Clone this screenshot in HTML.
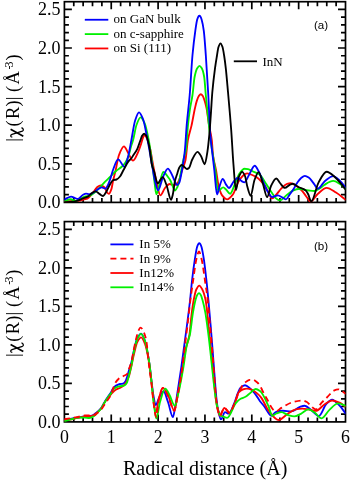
<!DOCTYPE html>
<html><head><meta charset="utf-8"><style>
html,body{margin:0;padding:0;background:#fff;}
body{width:350px;height:481px;overflow:hidden;}
svg{display:block;will-change:transform;}
text{font-family:"Liberation Serif",serif;fill:#000;}
.s{font-family:"Liberation Sans",sans-serif;}
</style></head><body>
<svg width="350" height="481" viewBox="0 0 350 481">
<rect width="350" height="481" fill="#fff"/>
<clipPath id="c0"><rect x="64.40" y="1.70" width="281.10" height="200.70"/></clipPath>
<clipPath id="c1"><rect x="64.40" y="221.60" width="281.10" height="200.30"/></clipPath>
<rect x="64.40" y="1.70" width="281.10" height="200.70" fill="none" stroke="#000" stroke-width="1.70"/>
<rect x="64.40" y="221.60" width="281.10" height="200.30" fill="none" stroke="#000" stroke-width="1.70"/>
<path d="M73.77,202.40v-4.50M73.77,1.70v4.50M83.14,202.40v-4.50M83.14,1.70v4.50M92.51,202.40v-4.50M92.51,1.70v4.50M101.88,202.40v-4.50M101.88,1.70v4.50M111.25,202.40v-7.50M111.25,1.70v7.50M120.62,202.40v-4.50M120.62,1.70v4.50M129.99,202.40v-4.50M129.99,1.70v4.50M139.36,202.40v-4.50M139.36,1.70v4.50M148.73,202.40v-4.50M148.73,1.70v4.50M158.10,202.40v-7.50M158.10,1.70v7.50M167.47,202.40v-4.50M167.47,1.70v4.50M176.84,202.40v-4.50M176.84,1.70v4.50M186.21,202.40v-4.50M186.21,1.70v4.50M195.58,202.40v-4.50M195.58,1.70v4.50M204.95,202.40v-7.50M204.95,1.70v7.50M214.32,202.40v-4.50M214.32,1.70v4.50M223.69,202.40v-4.50M223.69,1.70v4.50M233.06,202.40v-4.50M233.06,1.70v4.50M242.43,202.40v-4.50M242.43,1.70v4.50M251.80,202.40v-7.50M251.80,1.70v7.50M261.17,202.40v-4.50M261.17,1.70v4.50M270.54,202.40v-4.50M270.54,1.70v4.50M279.91,202.40v-4.50M279.91,1.70v4.50M289.28,202.40v-4.50M289.28,1.70v4.50M298.65,202.40v-7.50M298.65,1.70v7.50M308.02,202.40v-4.50M308.02,1.70v4.50M317.39,202.40v-4.50M317.39,1.70v4.50M326.76,202.40v-4.50M326.76,1.70v4.50M336.13,202.40v-4.50M336.13,1.70v4.50M64.40,194.68h4.50M345.50,194.68h-4.50M64.40,186.96h4.50M345.50,186.96h-4.50M64.40,179.24h4.50M345.50,179.24h-4.50M64.40,171.52h4.50M345.50,171.52h-4.50M64.40,163.80h7.50M345.50,163.80h-7.50M64.40,156.08h4.50M345.50,156.08h-4.50M64.40,148.37h4.50M345.50,148.37h-4.50M64.40,140.65h4.50M345.50,140.65h-4.50M64.40,132.93h4.50M345.50,132.93h-4.50M64.40,125.21h7.50M345.50,125.21h-7.50M64.40,117.49h4.50M345.50,117.49h-4.50M64.40,109.77h4.50M345.50,109.77h-4.50M64.40,102.05h4.50M345.50,102.05h-4.50M64.40,94.33h4.50M345.50,94.33h-4.50M64.40,86.61h7.50M345.50,86.61h-7.50M64.40,78.89h4.50M345.50,78.89h-4.50M64.40,71.17h4.50M345.50,71.17h-4.50M64.40,63.45h4.50M345.50,63.45h-4.50M64.40,55.73h4.50M345.50,55.73h-4.50M64.40,48.02h7.50M345.50,48.02h-7.50M64.40,40.30h4.50M345.50,40.30h-4.50M64.40,32.58h4.50M345.50,32.58h-4.50M64.40,24.86h4.50M345.50,24.86h-4.50M64.40,17.14h4.50M345.50,17.14h-4.50M64.40,9.42h7.50M345.50,9.42h-7.50M73.77,421.90v-4.50M73.77,221.60v4.50M83.14,421.90v-4.50M83.14,221.60v4.50M92.51,421.90v-4.50M92.51,221.60v4.50M101.88,421.90v-4.50M101.88,221.60v4.50M111.25,421.90v-7.50M111.25,221.60v7.50M120.62,421.90v-4.50M120.62,221.60v4.50M129.99,421.90v-4.50M129.99,221.60v4.50M139.36,421.90v-4.50M139.36,221.60v4.50M148.73,421.90v-4.50M148.73,221.60v4.50M158.10,421.90v-7.50M158.10,221.60v7.50M167.47,421.90v-4.50M167.47,221.60v4.50M176.84,421.90v-4.50M176.84,221.60v4.50M186.21,421.90v-4.50M186.21,221.60v4.50M195.58,421.90v-4.50M195.58,221.60v4.50M204.95,421.90v-7.50M204.95,221.60v7.50M214.32,421.90v-4.50M214.32,221.60v4.50M223.69,421.90v-4.50M223.69,221.60v4.50M233.06,421.90v-4.50M233.06,221.60v4.50M242.43,421.90v-4.50M242.43,221.60v4.50M251.80,421.90v-7.50M251.80,221.60v7.50M261.17,421.90v-4.50M261.17,221.60v4.50M270.54,421.90v-4.50M270.54,221.60v4.50M279.91,421.90v-4.50M279.91,221.60v4.50M289.28,421.90v-4.50M289.28,221.60v4.50M298.65,421.90v-7.50M298.65,221.60v7.50M308.02,421.90v-4.50M308.02,221.60v4.50M317.39,421.90v-4.50M317.39,221.60v4.50M326.76,421.90v-4.50M326.76,221.60v4.50M336.13,421.90v-4.50M336.13,221.60v4.50M64.40,414.20h4.50M345.50,414.20h-4.50M64.40,406.49h4.50M345.50,406.49h-4.50M64.40,398.79h4.50M345.50,398.79h-4.50M64.40,391.08h4.50M345.50,391.08h-4.50M64.40,383.38h7.50M345.50,383.38h-7.50M64.40,375.68h4.50M345.50,375.68h-4.50M64.40,367.97h4.50M345.50,367.97h-4.50M64.40,360.27h4.50M345.50,360.27h-4.50M64.40,352.57h4.50M345.50,352.57h-4.50M64.40,344.86h7.50M345.50,344.86h-7.50M64.40,337.16h4.50M345.50,337.16h-4.50M64.40,329.45h4.50M345.50,329.45h-4.50M64.40,321.75h4.50M345.50,321.75h-4.50M64.40,314.05h4.50M345.50,314.05h-4.50M64.40,306.34h7.50M345.50,306.34h-7.50M64.40,298.64h4.50M345.50,298.64h-4.50M64.40,290.93h4.50M345.50,290.93h-4.50M64.40,283.23h4.50M345.50,283.23h-4.50M64.40,275.53h4.50M345.50,275.53h-4.50M64.40,267.82h7.50M345.50,267.82h-7.50M64.40,260.12h4.50M345.50,260.12h-4.50M64.40,252.42h4.50M345.50,252.42h-4.50M64.40,244.71h4.50M345.50,244.71h-4.50M64.40,237.01h4.50M345.50,237.01h-4.50M64.40,229.30h7.50M345.50,229.30h-7.50" stroke="#000" stroke-width="1.70" fill="none"/>
<g clip-path="url(#c0)">
<path d="M64.00,201.40 C66.80,201.27 69.60,201.16 72.40,201.00 C74.93,200.86 77.47,200.79 80.00,200.50 C81.33,200.35 82.67,199.62 84.00,199.30 C85.13,199.02 86.27,198.97 87.40,198.60 C89.13,198.03 90.87,195.43 92.60,193.40 C94.03,191.72 95.47,188.52 96.90,187.40 C98.17,186.41 99.43,185.30 100.70,185.30 C102.00,185.30 103.30,186.24 104.60,187.40 C105.43,188.14 106.27,191.73 107.10,192.60 C107.70,193.23 108.30,193.90 108.90,193.90 C109.73,193.90 110.57,191.48 111.40,189.10 C111.97,187.48 112.53,183.13 113.10,180.60 C113.90,177.02 114.70,174.40 115.50,171.00 C116.67,166.04 117.83,158.00 119.00,155.00 C120.67,150.72 122.33,146.40 124.00,146.40 C125.13,146.40 126.27,149.66 127.40,151.40 C129.30,154.31 131.20,160.60 133.10,160.60 C134.73,160.60 136.37,155.86 138.00,152.40 C139.10,150.07 140.20,146.66 141.30,143.30 C141.87,141.57 142.43,138.90 143.00,137.60 C143.53,136.38 144.07,134.80 144.60,134.80 C145.20,134.80 145.80,136.30 146.40,137.40 C147.10,138.69 147.80,140.66 148.50,142.80 C149.13,144.74 149.77,147.08 150.40,149.90 C151.23,153.61 152.07,159.57 152.90,164.00 C154.10,170.38 155.30,177.10 156.50,182.00 C157.80,187.31 159.10,195.40 160.40,195.40 C161.93,195.40 163.47,189.73 165.00,188.00 C166.53,186.27 168.07,184.00 169.60,184.00 C170.97,184.00 172.33,185.10 173.70,185.10 C174.73,185.10 175.77,184.57 176.80,183.90 C177.63,183.36 178.47,181.44 179.30,179.50 C179.93,178.02 180.57,175.19 181.20,173.20 C181.83,171.20 182.47,169.44 183.10,167.50 C183.90,165.05 184.70,163.64 185.50,160.00 C186.30,156.36 187.10,144.43 187.90,140.00 C189.10,133.36 190.30,130.95 191.50,125.60 C192.67,120.40 193.83,113.09 195.00,108.00 C195.60,105.38 196.20,102.72 196.80,100.90 C197.47,98.88 198.13,96.88 198.80,96.00 C199.47,95.12 200.13,94.20 200.80,94.20 C201.47,94.20 202.13,95.11 202.80,96.00 C203.43,96.85 204.07,98.92 204.70,100.90 C205.30,102.77 205.90,105.06 206.50,108.00 C207.37,112.25 208.23,120.43 209.10,125.60 C210.00,130.97 210.90,132.91 211.80,140.00 C212.20,143.15 212.60,151.96 213.00,155.00 C214.00,162.61 215.00,164.52 216.00,170.00 C216.90,174.93 217.80,182.91 218.70,186.30 C219.83,190.57 220.97,193.99 222.10,195.40 C223.83,197.55 225.57,199.40 227.30,199.40 C229.20,199.40 231.10,196.78 233.00,194.30 C234.70,192.08 236.40,185.23 238.10,182.30 C239.63,179.66 241.17,177.31 242.70,176.00 C244.13,174.77 245.57,173.30 247.00,173.30 C248.33,173.30 249.67,174.01 251.00,174.50 C252.80,175.16 254.60,175.96 256.40,177.10 C259.27,178.91 262.13,182.03 265.00,185.70 C267.43,188.81 269.87,198.40 272.30,198.40 C273.53,198.40 274.77,196.28 276.00,195.00 C277.80,193.13 279.60,190.13 281.40,188.40 C283.30,186.57 285.20,184.49 287.10,183.90 C288.23,183.55 289.37,183.20 290.50,183.20 C291.73,183.20 292.97,183.92 294.20,184.50 C295.67,185.19 297.13,186.62 298.60,187.80 C299.60,188.61 300.60,189.38 301.60,190.40 C302.60,191.42 303.60,192.78 304.60,194.10 C305.57,195.37 306.53,197.00 307.50,198.20 C308.50,199.44 309.50,201.50 310.50,201.50 C312.90,201.50 315.30,196.02 317.70,194.00 C320.67,191.51 323.63,187.80 326.60,187.80 C329.73,187.80 332.87,190.62 336.00,192.50 C339.33,194.50 342.67,197.50 346.00,200.00" fill="none" stroke="#ff0000" stroke-width="1.85" stroke-linejoin="round"/>
<path d="M64.00,201.00 C66.27,200.40 68.53,199.20 70.80,199.20 C72.27,199.20 73.73,201.00 75.20,201.00 C76.93,201.00 78.67,199.78 80.40,199.00 C82.00,198.28 83.60,196.67 85.20,196.40 C86.50,196.18 87.80,196.22 89.10,196.00 C91.10,195.66 93.10,193.68 95.10,192.10 C97.10,190.52 99.10,188.19 101.10,186.10 C102.53,184.60 103.97,182.86 105.40,181.40 C106.93,179.83 108.47,178.50 110.00,177.00 C112.00,175.05 114.00,172.71 116.00,171.00 C118.00,169.29 120.00,168.37 122.00,166.50 C123.03,165.54 124.07,164.40 125.10,162.90 C126.27,161.20 127.43,159.14 128.60,156.00 C129.37,153.93 130.13,149.58 130.90,146.90 C131.63,144.34 132.37,142.66 133.10,140.00 C134.23,135.89 135.37,128.00 136.50,125.00 C137.87,121.39 139.23,117.40 140.60,117.40 C141.90,117.40 143.20,120.26 144.50,123.00 C145.90,125.95 147.30,132.88 148.70,140.00 C149.80,145.60 150.90,153.97 152.00,162.00 C152.83,168.09 153.67,176.06 154.50,182.00 C155.13,186.51 155.77,194.30 156.40,194.30 C157.27,194.30 158.13,188.79 159.00,186.00 C160.43,181.38 161.87,172.00 163.30,172.00 C164.87,172.00 166.43,175.03 168.00,177.00 C168.83,178.05 169.67,179.15 170.50,180.70 C171.33,182.25 172.17,185.24 173.00,187.00 C173.63,188.34 174.27,190.50 174.90,190.50 C175.73,190.50 176.57,188.66 177.40,187.00 C177.93,185.94 178.47,184.07 179.00,182.00 C179.53,179.93 180.07,176.57 180.60,173.80 C181.00,171.72 181.40,169.50 181.80,167.50 C182.47,164.16 183.13,160.82 183.80,158.00 C184.50,155.04 185.20,154.04 185.90,150.00 C186.60,145.96 187.30,131.83 188.00,125.00 C188.60,119.14 189.20,114.05 189.80,110.00 C190.70,103.92 191.60,101.12 192.50,95.00 C193.20,90.24 193.90,80.42 194.60,77.00 C195.47,72.76 196.33,69.71 197.20,68.30 C197.97,67.05 198.73,65.80 199.50,65.80 C200.27,65.80 201.03,67.02 201.80,68.30 C202.60,69.63 203.40,72.46 204.20,77.00 C204.73,80.03 205.27,89.34 205.80,95.00 C206.43,101.72 207.07,107.95 207.70,114.00 C208.47,121.33 209.23,128.80 210.00,135.00 C210.73,140.93 211.47,146.10 212.20,151.00 C213.23,157.91 214.27,163.03 215.30,170.00 C216.23,176.29 217.17,190.90 218.10,190.90 C219.83,190.90 221.57,187.40 223.30,187.40 C224.20,187.40 225.10,188.71 226.00,189.50 C227.37,190.70 228.73,193.70 230.10,193.70 C231.83,193.70 233.57,186.69 235.30,182.90 C236.63,179.98 237.97,175.54 239.30,173.70 C241.03,171.31 242.77,168.70 244.50,168.70 C245.67,168.70 246.83,168.95 248.00,169.20 C249.67,169.55 251.33,170.75 253.00,171.50 C255.10,172.45 257.20,172.90 259.30,174.30 C261.67,175.88 264.03,180.80 266.40,184.30 C268.27,187.06 270.13,190.28 272.00,193.00 C273.23,194.79 274.47,197.09 275.70,198.10 C277.03,199.19 278.37,200.40 279.70,200.40 C282.17,200.40 284.63,196.49 287.10,194.70 C289.03,193.30 290.97,191.50 292.90,190.70 C294.80,189.91 296.70,189.00 298.60,189.00 C300.50,189.00 302.40,189.34 304.30,189.60 C305.87,189.81 307.43,190.30 309.00,190.50 C310.80,190.73 312.60,191.00 314.40,191.00 C315.93,191.00 317.47,189.85 319.00,189.00 C320.73,188.04 322.47,186.02 324.20,185.00 C327.20,183.24 330.20,180.90 333.20,180.90 C335.47,180.90 337.73,182.66 340.00,184.00 C342.00,185.19 344.00,187.33 346.00,189.00" fill="none" stroke="#00f000" stroke-width="1.85" stroke-linejoin="round"/>
<path d="M64.00,199.80 C65.17,199.13 66.33,198.28 67.50,197.80 C68.73,197.29 69.97,196.60 71.20,196.60 C72.30,196.60 73.40,197.39 74.50,197.80 C75.53,198.19 76.57,199.00 77.60,199.00 C79.33,199.00 81.07,195.95 82.80,195.00 C83.87,194.42 84.93,193.60 86.00,193.60 C87.03,193.60 88.07,194.30 89.10,194.30 C90.23,194.30 91.37,193.70 92.50,193.20 C93.97,192.55 95.43,190.94 96.90,190.00 C98.47,188.99 100.03,187.30 101.60,187.30 C102.87,187.30 104.13,188.70 105.40,188.70 C106.27,188.70 107.13,186.53 108.00,184.90 C108.87,183.27 109.73,180.56 110.60,178.00 C111.40,175.63 112.20,172.12 113.00,170.00 C114.70,165.50 116.40,159.30 118.10,159.30 C120.27,159.30 122.43,166.90 124.60,166.90 C125.73,166.90 126.87,161.25 128.00,157.10 C129.13,152.95 130.27,145.84 131.40,140.00 C132.60,133.82 133.80,124.69 135.00,121.00 C136.33,116.90 137.67,112.40 139.00,112.40 C140.33,112.40 141.67,115.78 143.00,119.00 C144.33,122.22 145.67,130.42 147.00,137.00 C148.40,143.91 149.80,152.30 151.20,160.00 C152.47,166.97 153.73,176.12 155.00,181.00 C156.03,184.98 157.07,190.30 158.10,190.30 C159.73,190.30 161.37,180.43 163.00,177.00 C164.63,173.57 166.27,168.60 167.90,168.60 C169.20,168.60 170.50,172.02 171.80,174.40 C172.63,175.92 173.47,178.43 174.30,180.10 C175.23,181.97 176.17,185.10 177.10,185.10 C177.83,185.10 178.57,183.95 179.30,182.60 C179.73,181.80 180.17,179.55 180.60,177.60 C181.13,175.20 181.67,171.87 182.20,168.80 C182.63,166.31 183.07,163.94 183.50,161.00 C183.97,157.83 184.43,154.63 184.90,150.00 C185.50,144.05 186.10,132.07 186.70,125.00 C187.70,113.21 188.70,106.79 189.70,95.00 C190.63,84.00 191.57,65.05 192.50,55.00 C193.43,44.95 194.37,37.26 195.30,30.80 C195.93,26.41 196.57,21.83 197.20,19.60 C197.57,18.31 197.93,17.20 198.30,16.70 C198.67,16.20 199.03,15.70 199.40,15.70 C199.77,15.70 200.13,16.20 200.50,16.70 C200.87,17.20 201.23,18.37 201.60,19.60 C202.33,22.06 203.07,25.51 203.80,30.80 C204.47,35.61 205.13,45.86 205.80,55.00 C206.63,66.42 207.47,80.12 208.30,95.00 C208.97,106.90 209.63,126.78 210.30,135.00 C210.93,142.80 211.57,146.45 212.20,152.00 C212.90,158.13 213.60,163.84 214.30,170.00 C215.20,177.92 216.10,194.50 217.00,194.50 C217.97,194.50 218.93,187.64 219.90,185.10 C220.83,182.65 221.77,178.90 222.70,178.90 C223.83,178.90 224.97,183.04 226.10,184.60 C227.07,185.93 228.03,188.00 229.00,188.00 C230.53,188.00 232.07,183.37 233.60,181.70 C235.07,180.10 236.53,177.70 238.00,177.70 C239.20,177.70 240.40,180.42 241.60,181.10 C242.57,181.65 243.53,182.30 244.50,182.30 C246.00,182.30 247.50,177.44 249.00,175.00 C250.90,171.91 252.80,165.70 254.70,165.70 C256.13,165.70 257.57,169.41 259.00,172.00 C260.53,174.77 262.07,179.52 263.60,182.90 C265.07,186.14 266.53,189.73 268.00,192.00 C269.37,194.12 270.73,197.10 272.10,197.10 C274.07,197.10 276.03,195.30 278.00,195.30 C279.53,195.30 281.07,196.83 282.60,197.60 C283.73,198.17 284.87,199.30 286.00,199.30 C287.23,199.30 288.47,196.16 289.70,194.50 C290.93,192.84 292.17,191.20 293.40,189.30 C294.63,187.40 295.87,184.79 297.10,183.00 C298.37,181.16 299.63,179.20 300.90,178.20 C302.23,177.14 303.57,175.90 304.90,175.90 C306.27,175.90 307.63,176.89 309.00,177.80 C310.00,178.47 311.00,179.88 312.00,181.10 C312.83,182.12 313.67,183.37 314.50,184.50 C315.57,185.94 316.63,188.80 317.70,188.80 C320.13,188.80 322.57,182.76 325.00,180.90 C327.73,178.81 330.47,176.10 333.20,176.10 C335.47,176.10 337.73,178.97 340.00,181.00 C342.00,182.79 344.00,185.67 346.00,188.00" fill="none" stroke="#0000ff" stroke-width="1.85" stroke-linejoin="round"/>
<path d="M64.00,202.20 C66.00,202.13 68.00,202.11 70.00,202.00 C72.67,201.86 75.33,201.30 78.00,200.60 C79.60,200.18 81.20,199.05 82.80,198.40 C84.63,197.65 86.47,197.36 88.30,196.40 C89.73,195.65 91.17,193.42 92.60,192.60 C93.60,192.03 94.60,191.30 95.60,191.30 C96.87,191.30 98.13,193.09 99.40,193.90 C100.57,194.65 101.73,196.00 102.90,196.00 C104.03,196.00 105.17,193.46 106.30,191.70 C107.43,189.94 108.57,186.78 109.70,184.90 C110.83,183.02 111.97,180.46 113.10,180.10 C114.23,179.74 115.37,179.83 116.50,179.50 C117.67,179.16 118.83,177.87 120.00,176.50 C121.17,175.13 122.33,172.10 123.50,170.00 C125.20,166.94 126.90,163.21 128.60,161.10 C129.53,159.94 130.47,159.48 131.40,158.30 C131.93,157.63 132.47,156.55 133.00,155.70 C134.40,153.46 135.80,151.93 137.20,149.10 C138.30,146.87 139.40,142.93 140.50,140.00 C141.07,138.49 141.63,136.40 142.20,135.60 C142.87,134.66 143.53,133.70 144.20,133.70 C144.90,133.70 145.60,134.72 146.30,135.80 C146.73,136.47 147.17,138.11 147.60,139.60 C148.27,141.90 148.93,144.64 149.60,148.30 C150.30,152.14 151.00,160.90 151.70,164.00 C152.57,167.84 153.43,169.19 154.30,172.00 C155.40,175.57 156.50,183.40 157.60,183.40 C159.30,183.40 161.00,177.10 162.70,177.10 C163.97,177.10 165.23,181.82 166.50,185.00 C168.03,188.85 169.57,199.80 171.10,199.80 C171.63,199.80 172.17,197.12 172.70,195.00 C173.43,192.09 174.17,184.56 174.90,181.40 C175.73,177.80 176.57,175.81 177.40,173.20 C178.03,171.22 178.67,168.56 179.30,167.50 C180.03,166.28 180.77,165.00 181.50,165.00 C182.47,165.00 183.43,166.19 184.40,166.90 C185.23,167.52 186.07,169.00 186.90,169.00 C187.60,169.00 188.30,168.54 189.00,168.00 C190.00,167.22 191.00,161.95 192.00,160.00 C193.87,156.36 195.73,151.80 197.60,151.80 C198.73,151.80 199.87,154.21 201.00,156.00 C202.23,157.95 203.47,164.20 204.70,164.20 C205.63,164.20 206.57,156.98 207.50,151.10 C208.10,147.32 208.70,141.37 209.30,134.90 C209.80,129.51 210.30,122.04 210.80,115.00 C211.30,107.96 211.80,98.25 212.30,92.50 C213.20,82.15 214.10,75.00 215.00,68.30 C215.63,63.58 216.27,59.80 216.90,56.00 C217.43,52.80 217.97,48.51 218.50,47.00 C219.17,45.11 219.83,43.30 220.50,43.30 C221.17,43.30 221.83,45.15 222.50,47.00 C223.07,48.57 223.63,52.44 224.20,56.00 C224.73,59.35 225.27,63.56 225.80,68.30 C226.53,74.82 227.27,83.84 228.00,92.00 C228.67,99.42 229.33,106.99 230.00,115.00 C230.40,119.81 230.80,124.57 231.20,130.00 C231.97,140.42 232.73,155.51 233.50,165.00 C234.30,174.91 235.10,190.00 235.90,190.00 C236.83,190.00 237.77,179.27 238.70,177.10 C239.87,174.39 241.03,171.80 242.20,171.80 C243.13,171.80 244.07,173.86 245.00,176.00 C245.77,177.76 246.53,183.85 247.30,186.50 C248.43,190.42 249.57,195.70 250.70,195.70 C251.97,195.70 253.23,183.34 254.50,180.00 C255.87,176.39 257.23,172.10 258.60,172.10 C260.07,172.10 261.53,179.70 263.00,184.00 C264.37,188.01 265.73,197.10 267.10,197.10 C268.40,197.10 269.70,188.50 271.00,186.00 C272.77,182.60 274.53,178.50 276.30,178.50 C277.53,178.50 278.77,181.63 280.00,183.00 C281.60,184.78 283.20,187.90 284.80,187.90 C286.43,187.90 288.07,185.68 289.70,184.90 C290.70,184.42 291.70,183.70 292.70,183.70 C293.70,183.70 294.70,184.65 295.70,185.20 C296.93,185.88 298.17,186.92 299.40,187.50 C300.63,188.08 301.87,188.31 303.10,188.90 C304.10,189.38 305.10,189.86 306.10,190.80 C306.83,191.49 307.57,193.06 308.30,194.50 C309.27,196.40 310.23,201.50 311.20,201.50 C313.63,201.50 316.07,186.93 318.50,182.60 C321.20,177.79 323.90,171.70 326.60,171.70 C329.60,171.70 332.60,175.16 335.60,177.70 C339.07,180.64 342.53,185.90 346.00,190.00" fill="none" stroke="#000000" stroke-width="1.85" stroke-linejoin="round"/>
</g>
<g clip-path="url(#c1)">
<path d="M64.00,420.00 C66.00,419.67 68.00,419.34 70.00,419.00 C72.10,418.64 74.20,418.27 76.30,417.90 C79.17,417.40 82.03,416.76 84.90,416.40 C87.27,416.10 89.63,416.14 92.00,415.70 C93.33,415.45 94.67,414.05 96.00,413.00 C97.73,411.64 99.47,410.20 101.20,408.00 C102.43,406.43 103.67,403.43 104.90,401.40 C105.77,399.97 106.63,398.70 107.50,397.40 C108.73,395.55 109.97,394.06 111.20,392.00 C111.80,391.00 112.40,389.41 113.00,388.60 C114.00,387.26 115.00,386.18 116.00,385.60 C117.33,384.82 118.67,384.26 120.00,384.00 C121.00,383.80 122.00,383.84 123.00,383.60 C123.83,383.40 124.67,382.42 125.50,381.20 C126.00,380.47 126.50,378.82 127.00,377.30 C127.40,376.09 127.80,374.38 128.20,373.00 C128.80,370.92 129.40,369.03 130.00,367.00 C130.53,365.19 131.07,363.61 131.60,361.50 C132.40,358.33 133.20,353.33 134.00,350.00 C135.10,345.42 136.20,339.96 137.30,338.00 C138.57,335.75 139.83,333.60 141.10,333.60 C142.40,333.60 143.70,337.43 145.00,341.00 C146.43,344.93 147.87,353.67 149.30,362.90 C150.00,367.41 150.70,374.49 151.40,380.00 C152.10,385.51 152.80,392.26 153.50,396.00 C154.23,399.91 154.97,405.00 155.70,405.00 C156.80,405.00 157.90,399.90 159.00,398.00 C160.53,395.35 162.07,391.40 163.60,391.40 C165.07,391.40 166.53,398.04 168.00,402.00 C169.63,406.41 171.27,417.10 172.90,417.10 C173.60,417.10 174.30,411.58 175.00,408.00 C175.77,404.08 176.53,398.51 177.30,393.60 C178.67,384.85 180.03,376.19 181.40,366.60 C182.37,359.82 183.33,352.18 184.30,345.00 C185.20,338.32 186.10,331.94 187.00,325.00 C188.03,317.03 189.07,309.30 190.10,300.00 C190.77,294.00 191.43,285.77 192.10,280.00 C193.03,271.92 193.97,264.84 194.90,258.90 C195.60,254.45 196.30,249.54 197.00,247.20 C197.40,245.87 197.80,244.77 198.20,244.20 C198.57,243.68 198.93,243.10 199.30,243.10 C199.67,243.10 200.03,243.68 200.40,244.20 C200.80,244.77 201.20,245.89 201.60,247.20 C202.33,249.61 203.07,254.22 203.80,258.90 C204.67,264.44 205.53,272.20 206.40,280.00 C207.07,286.00 207.73,292.91 208.40,300.00 C209.13,307.79 209.87,316.26 210.60,325.00 C211.27,332.94 211.93,341.45 212.60,350.00 C213.23,358.12 213.87,367.08 214.50,375.00 C215.20,383.76 215.90,394.25 216.60,400.00 C217.23,405.20 217.87,409.43 218.50,412.00 C219.33,415.38 220.17,419.30 221.00,419.30 C222.33,419.30 223.67,412.10 225.00,412.10 C226.20,412.10 227.40,413.60 228.60,413.60 C230.50,413.60 232.40,407.43 234.30,403.10 C235.43,400.52 236.57,396.05 237.70,393.40 C238.67,391.14 239.63,388.46 240.60,387.60 C242.07,386.29 243.53,385.20 245.00,385.20 C246.77,385.20 248.53,387.15 250.30,388.60 C252.27,390.21 254.23,392.79 256.20,395.40 C257.47,397.08 258.73,399.49 260.00,401.20 C261.43,403.14 262.87,404.60 264.30,406.40 C266.67,409.37 269.03,415.70 271.40,415.70 C272.83,415.70 274.27,412.58 275.70,412.10 C278.10,411.30 280.50,410.70 282.90,410.70 C285.73,410.70 288.57,411.40 291.40,411.40 C294.10,411.40 296.80,408.04 299.50,407.10 C301.23,406.50 302.97,405.70 304.70,405.70 C306.90,405.70 309.10,408.50 311.30,410.10 C313.80,411.91 316.30,416.10 318.80,416.10 C321.27,416.10 323.73,406.72 326.20,404.20 C328.17,402.19 330.13,399.70 332.10,399.70 C334.60,399.70 337.10,403.21 339.60,405.70 C341.73,407.82 343.87,411.23 346.00,414.00" fill="none" stroke="#0000ff" stroke-width="1.85" stroke-linejoin="round"/>
<path d="M64.00,420.50 C66.00,420.17 68.00,419.87 70.00,419.50 C72.10,419.11 74.20,418.62 76.30,418.20 C79.17,417.62 82.03,416.87 84.90,416.50 C87.27,416.19 89.63,416.23 92.00,415.80 C93.33,415.56 94.67,414.45 96.00,413.50 C97.73,412.27 99.47,410.69 101.20,408.50 C102.43,406.94 103.67,403.87 104.90,402.00 C105.77,400.69 106.63,399.61 107.50,398.50 C108.73,396.92 109.97,395.29 111.20,394.00 C112.87,392.26 114.53,390.41 116.20,389.50 C117.43,388.82 118.67,388.64 119.90,388.00 C121.57,387.14 123.23,386.12 124.90,384.30 C126.17,382.92 127.43,380.37 128.70,377.00 C129.53,374.78 130.37,370.58 131.20,367.00 C132.13,362.99 133.07,357.82 134.00,354.00 C135.10,349.50 136.20,344.02 137.30,342.00 C138.57,339.67 139.83,337.40 141.10,337.40 C142.40,337.40 143.70,340.80 145.00,344.00 C146.43,347.53 147.87,355.24 149.30,364.00 C150.03,368.48 150.77,375.71 151.50,382.00 C152.17,387.72 152.83,395.25 153.50,400.00 C154.23,405.22 154.97,412.90 155.70,412.90 C156.80,412.90 157.90,401.65 159.00,398.00 C160.30,393.69 161.60,387.90 162.90,387.90 C164.60,387.90 166.30,392.01 168.00,395.00 C170.10,398.70 172.20,410.50 174.30,410.50 C175.37,410.50 176.43,401.23 177.50,396.00 C179.10,388.15 180.70,379.33 182.30,370.00 C183.37,363.78 184.43,355.12 185.50,350.00 C186.80,343.76 188.10,342.44 189.40,335.00 C190.10,330.99 190.80,320.57 191.50,315.00 C192.23,309.16 192.97,303.75 193.70,300.00 C194.57,295.57 195.43,291.23 196.30,289.50 C197.30,287.51 198.30,285.60 199.30,285.60 C200.30,285.60 201.30,287.67 202.30,289.50 C203.40,291.52 204.50,294.81 205.60,300.00 C206.23,302.99 206.87,309.14 207.50,315.00 C208.10,320.55 208.70,328.83 209.30,335.00 C210.00,342.19 210.70,348.33 211.40,355.00 C212.10,361.67 212.80,368.18 213.50,375.00 C214.33,383.12 215.17,394.15 216.00,400.00 C216.67,404.68 217.33,408.77 218.00,411.00 C218.67,413.23 219.33,415.80 220.00,415.80 C220.67,415.80 221.33,413.23 222.00,412.00 C222.77,410.59 223.53,407.90 224.30,407.90 C225.13,407.90 225.97,409.47 226.80,410.30 C227.63,411.13 228.47,412.90 229.30,412.90 C231.13,412.90 232.97,407.11 234.80,403.10 C236.10,400.26 237.40,393.92 238.70,392.40 C240.00,390.88 241.30,389.93 242.60,389.50 C244.03,389.03 245.47,388.60 246.90,388.60 C248.70,388.60 250.50,389.31 252.30,390.00 C253.90,390.61 255.50,392.07 257.10,393.40 C258.40,394.48 259.70,395.69 261.00,397.30 C263.53,400.44 266.07,407.57 268.60,410.70 C271.93,414.82 275.27,420.00 278.60,420.00 C281.43,420.00 284.27,416.06 287.10,414.30 C289.97,412.51 292.83,409.79 295.70,409.30 C297.93,408.92 300.17,408.60 302.40,408.60 C304.40,408.60 306.40,409.08 308.40,409.40 C310.87,409.79 313.33,410.90 315.80,410.90 C318.77,410.90 321.73,405.97 324.70,404.20 C327.17,402.73 329.63,400.50 332.10,400.50 C334.60,400.50 337.10,401.67 339.60,402.70 C341.73,403.58 343.87,405.57 346.00,407.00" fill="none" stroke="#ff0000" stroke-width="1.85" stroke-linejoin="round"/>
<path d="M64.00,421.00 C66.33,420.43 68.67,419.86 71.00,419.30 C73.57,418.69 76.13,417.50 78.70,417.50 C80.70,417.50 82.70,417.54 84.70,417.60 C86.23,417.64 87.77,418.00 89.30,418.00 C90.80,418.00 92.30,417.05 93.80,416.20 C95.33,415.33 96.87,413.33 98.40,411.70 C99.33,410.71 100.27,409.78 101.20,408.50 C102.43,406.81 103.67,404.02 104.90,402.00 C105.77,400.58 106.63,399.25 107.50,398.00 C108.73,396.22 109.97,394.76 111.20,393.00 C112.13,391.67 113.07,389.57 114.00,388.80 C115.33,387.70 116.67,386.91 118.00,386.60 C119.33,386.29 120.67,386.25 122.00,386.00 C122.83,385.84 123.67,385.73 124.50,385.40 C125.33,385.07 126.17,384.04 127.00,382.50 C127.50,381.58 128.00,378.91 128.50,377.00 C129.00,375.09 129.50,373.02 130.00,371.00 C130.53,368.85 131.07,366.99 131.60,364.50 C132.40,360.77 133.20,354.57 134.00,351.00 C135.10,346.09 136.20,341.21 137.30,339.00 C138.57,336.45 139.83,333.80 141.10,333.80 C142.40,333.80 143.70,337.50 145.00,341.00 C146.43,344.85 147.87,353.43 149.30,362.90 C150.03,367.74 150.77,375.45 151.50,382.00 C152.33,389.44 153.17,399.16 154.00,405.00 C154.80,410.60 155.60,418.60 156.40,418.60 C157.60,418.60 158.80,405.99 160.00,402.00 C161.77,396.12 163.53,388.60 165.30,388.60 C166.70,388.60 168.10,392.57 169.50,395.00 C171.27,398.06 173.03,405.80 174.80,405.80 C175.97,405.80 177.13,398.40 178.30,393.60 C180.03,386.46 181.77,376.72 183.50,366.60 C184.60,360.17 185.70,349.83 186.80,345.00 C187.80,340.61 188.80,339.51 189.80,335.00 C190.87,330.19 191.93,318.57 193.00,312.40 C193.83,307.58 194.67,303.03 195.50,300.00 C196.07,297.94 196.63,295.88 197.20,295.00 C197.80,294.06 198.40,293.10 199.00,293.10 C199.60,293.10 200.20,294.06 200.80,295.00 C201.37,295.88 201.93,298.03 202.50,300.00 C203.43,303.25 204.37,307.31 205.30,312.40 C206.27,317.67 207.23,325.48 208.20,333.00 C208.87,338.19 209.53,344.09 210.20,350.00 C210.90,356.21 211.60,363.13 212.30,369.50 C213.07,376.48 213.83,384.08 214.60,390.00 C215.33,395.66 216.07,402.01 216.80,405.00 C218.10,410.30 219.40,415.01 220.70,415.70 C221.43,416.09 222.17,416.15 222.90,416.40 C224.30,416.87 225.70,417.90 227.10,417.90 C230.00,417.90 232.90,406.40 235.80,403.10 C237.40,401.28 239.00,399.70 240.60,398.80 C242.23,397.88 243.87,397.69 245.50,396.80 C247.10,395.93 248.70,394.12 250.30,392.90 C252.10,391.52 253.90,389.00 255.70,389.00 C257.13,389.00 258.57,390.01 260.00,391.00 C262.87,392.99 265.73,400.09 268.60,406.40 C269.77,408.97 270.93,415.70 272.10,415.70 C273.57,415.70 275.03,414.04 276.50,413.50 C278.13,412.90 279.77,412.10 281.40,412.10 C283.57,412.10 285.73,414.36 287.90,415.00 C290.03,415.63 292.17,416.40 294.30,416.40 C296.50,416.40 298.70,414.83 300.90,413.80 C303.40,412.63 305.90,409.40 308.40,409.40 C310.37,409.40 312.33,411.11 314.30,412.30 C316.77,413.80 319.23,418.30 321.70,418.30 C324.20,418.30 326.70,412.34 329.20,410.10 C332.17,407.44 335.13,403.40 338.10,403.40 C340.73,403.40 343.37,405.13 346.00,406.00" fill="none" stroke="#00f000" stroke-width="1.85" stroke-linejoin="round"/>
<path d="M64.00,419.30 C65.33,419.07 66.67,418.82 68.00,418.60 C71.00,418.10 74.00,417.75 77.00,417.20 C79.57,416.73 82.13,415.58 84.70,415.50 C86.73,415.44 88.77,415.45 90.80,415.40 C91.87,415.38 92.93,415.36 94.00,415.30 C95.00,415.24 96.00,413.98 97.00,413.20 C98.40,412.11 99.80,411.06 101.20,409.50 C102.43,408.13 103.67,405.79 104.90,404.00 C105.77,402.74 106.63,401.62 107.50,400.30 C108.67,398.52 109.83,396.97 111.00,394.50 C111.67,393.09 112.33,390.83 113.00,389.00 C113.67,387.17 114.33,384.71 115.00,383.50 C116.17,381.39 117.33,380.06 118.50,379.00 C119.33,378.24 120.17,377.68 121.00,377.20 C121.83,376.72 122.67,376.45 123.50,376.00 C124.83,375.28 126.17,375.01 127.50,373.50 C128.10,372.82 128.70,369.70 129.30,368.00 C129.87,366.39 130.43,365.42 131.00,363.50 C131.90,360.46 132.80,354.31 133.70,350.00 C134.53,346.01 135.37,341.84 136.20,338.50 C136.90,335.70 137.60,332.51 138.30,331.00 C139.03,329.41 139.77,327.60 140.50,327.60 C141.27,327.60 142.03,328.72 142.80,329.80 C143.37,330.60 143.93,332.33 144.50,334.00 C145.10,335.77 145.70,337.46 146.30,340.60 C146.87,343.57 147.43,350.96 148.00,356.00 C148.53,360.75 149.07,365.83 149.60,370.00 C150.17,374.43 150.73,377.52 151.30,382.00 C152.07,388.07 152.83,397.78 153.60,403.00 C154.47,408.90 155.33,417.00 156.20,417.00 C157.13,417.00 158.07,402.76 159.00,399.00 C160.30,393.76 161.60,387.90 162.90,387.90 C164.60,387.90 166.30,392.81 168.00,396.00 C170.10,399.94 172.20,410.70 174.30,410.70 C175.37,410.70 176.43,401.42 177.50,396.00 C179.00,388.37 180.50,380.36 182.00,370.00 C183.00,363.09 184.00,353.16 185.00,345.00 C185.83,338.20 186.67,331.91 187.50,325.00 C188.47,316.99 189.43,307.55 190.40,300.00 C191.33,292.71 192.27,286.44 193.20,280.00 C194.20,273.10 195.20,264.15 196.20,260.00 C197.13,256.12 198.07,251.50 199.00,251.50 C199.93,251.50 200.87,256.17 201.80,260.00 C202.83,264.24 203.87,272.99 204.90,280.00 C205.83,286.33 206.77,291.90 207.70,300.00 C208.47,306.65 209.23,316.48 210.00,325.00 C210.73,333.15 211.47,341.26 212.20,350.00 C212.87,357.94 213.53,366.87 214.20,375.00 C214.90,383.54 215.60,394.58 216.30,400.00 C216.93,404.91 217.57,408.84 218.20,411.00 C218.87,413.27 219.53,415.80 220.20,415.80 C220.80,415.80 221.40,413.21 222.00,412.00 C222.77,410.46 223.53,407.60 224.30,407.60 C225.13,407.60 225.97,409.17 226.80,410.00 C227.63,410.83 228.47,412.60 229.30,412.60 C231.13,412.60 232.97,406.95 234.80,403.00 C236.10,400.20 237.40,395.19 238.70,392.40 C239.47,390.75 240.23,389.57 241.00,388.20 C241.67,387.01 242.33,385.50 243.00,384.70 C244.30,383.13 245.60,382.13 246.90,381.30 C247.87,380.68 248.83,379.80 249.80,379.80 C250.80,379.80 251.80,379.80 252.80,379.80 C254.23,379.80 255.67,381.13 257.10,382.30 C258.40,383.37 259.70,385.32 261.00,387.60 C261.37,388.24 261.73,389.25 262.10,390.00 C263.77,393.40 265.43,396.31 267.10,399.30 C269.03,402.76 270.97,407.37 272.90,409.30 C273.83,410.23 274.77,411.40 275.70,411.40 C277.60,411.40 279.50,408.96 281.40,407.90 C285.23,405.75 289.07,403.05 292.90,402.10 C296.07,401.31 299.23,400.50 302.40,400.50 C303.90,400.50 305.40,401.25 306.90,402.00 C308.37,402.73 309.83,405.23 311.30,406.40 C312.80,407.60 314.30,409.40 315.80,409.40 C317.77,409.40 319.73,404.79 321.70,402.70 C323.70,400.57 325.70,398.70 327.70,396.70 C329.67,394.73 331.63,391.76 333.60,390.80 C335.10,390.07 336.60,389.30 338.10,389.30 C340.73,389.30 343.37,392.43 346.00,394.00" fill="none" stroke="#ff0000" stroke-width="1.85" stroke-linejoin="round" stroke-dasharray="6,4"/>
</g>
<text x="60.40" y="208.30" font-size="18.00" text-anchor="end">0.0</text>
<text x="60.40" y="169.72" font-size="18.00" text-anchor="end">0.5</text>
<text x="60.40" y="131.15" font-size="18.00" text-anchor="end">1.0</text>
<text x="60.40" y="92.57" font-size="18.00" text-anchor="end">1.5</text>
<text x="60.40" y="53.99" font-size="18.00" text-anchor="end">2.0</text>
<text x="60.40" y="15.42" font-size="18.00" text-anchor="end">2.5</text>
<text x="60.40" y="427.90" font-size="18.00" text-anchor="end">0.0</text>
<text x="60.40" y="389.40" font-size="18.00" text-anchor="end">0.5</text>
<text x="60.40" y="350.90" font-size="18.00" text-anchor="end">1.0</text>
<text x="60.40" y="312.40" font-size="18.00" text-anchor="end">1.5</text>
<text x="60.40" y="273.90" font-size="18.00" text-anchor="end">2.0</text>
<text x="60.40" y="235.40" font-size="18.00" text-anchor="end">2.5</text>
<text x="64.40" y="442.60" font-size="17.80" text-anchor="middle">0</text>
<text x="111.25" y="442.60" font-size="17.80" text-anchor="middle">1</text>
<text x="158.10" y="442.60" font-size="17.80" text-anchor="middle">2</text>
<text x="204.95" y="442.60" font-size="17.80" text-anchor="middle">3</text>
<text x="251.80" y="442.60" font-size="17.80" text-anchor="middle">4</text>
<text x="298.65" y="442.60" font-size="17.80" text-anchor="middle">5</text>
<text x="345.50" y="442.60" font-size="17.80" text-anchor="middle">6</text>
<text x="123.00" y="474.90" font-size="20.00" text-anchor="start">Radical distance (Å)</text>
<g transform="translate(19.20,141.00) rotate(-90)">
<text x="-0.79" y="0.00" font-size="18.50">|</text>
<text x="14.54" y="0.00" font-size="18.50">(</text>
<text x="22.06" y="0.00" font-size="18.50">R</text>
<text x="34.40" y="0.00" font-size="18.50">)</text>
<text x="40.75" y="0.00" font-size="18.50">|</text>
<text x="49.10" y="0.00" font-size="18.50">(</text>
<text x="56.40" y="0.00" font-size="18.50">Å</text>
<text x="71.50" y="-6.40" font-size="12.00">-</text>
<text x="73.60" y="-6.40" font-size="12.00">3</text>
<text x="80.40" y="0.00" font-size="18.50">)</text>
<path d="M11.8,-8.6 L4.7,4.1" stroke="#000" stroke-width="1.7" fill="none"/>
<path d="M3.8,-6.9 C4.0,-8.6 5.6,-9.4 6.6,-7.2 L9.9,3.2 C10.5,4.6 12.2,4.6 13.4,2.3" stroke="#000" stroke-width="1.25" fill="none"/>
</g>
<g transform="translate(19.20,356.20) rotate(-90)">
<text x="-0.79" y="0.00" font-size="18.50">|</text>
<text x="14.54" y="0.00" font-size="18.50">(</text>
<text x="22.06" y="0.00" font-size="18.50">R</text>
<text x="34.40" y="0.00" font-size="18.50">)</text>
<text x="40.75" y="0.00" font-size="18.50">|</text>
<text x="49.10" y="0.00" font-size="18.50">(</text>
<text x="56.40" y="0.00" font-size="18.50">Å</text>
<text x="71.50" y="-6.40" font-size="12.00">-</text>
<text x="73.60" y="-6.40" font-size="12.00">3</text>
<text x="80.40" y="0.00" font-size="18.50">)</text>
<path d="M11.8,-8.6 L4.7,4.1" stroke="#000" stroke-width="1.7" fill="none"/>
<path d="M3.8,-6.9 C4.0,-8.6 5.6,-9.4 6.6,-7.2 L9.9,3.2 C10.5,4.6 12.2,4.6 13.4,2.3" stroke="#000" stroke-width="1.25" fill="none"/>
</g>
<line x1="84.80" y1="19.75" x2="108.30" y2="19.75" stroke="#0000ff" stroke-width="1.80"/>
<text x="113.50" y="23.15" font-size="13.00" text-anchor="start">on GaN bulk</text>
<line x1="84.80" y1="34.10" x2="108.30" y2="34.10" stroke="#00f000" stroke-width="1.80"/>
<text x="113.50" y="37.50" font-size="13.00" text-anchor="start">on c-sapphire</text>
<line x1="84.80" y1="48.45" x2="108.30" y2="48.45" stroke="#ff0000" stroke-width="1.80"/>
<text x="113.50" y="51.85" font-size="13.00" text-anchor="start">on Si (111)</text>
<line x1="110.40" y1="244.40" x2="133.50" y2="244.40" stroke="#0000ff" stroke-width="1.80"/>
<text x="139.30" y="248.30" font-size="13.00" text-anchor="start">In 5%</text>
<line x1="110.40" y1="258.70" x2="133.50" y2="258.70" stroke="#ff0000" stroke-width="1.80" stroke-dasharray="6,4"/>
<text x="139.30" y="262.60" font-size="13.00" text-anchor="start">In 9%</text>
<line x1="110.40" y1="273.00" x2="133.50" y2="273.00" stroke="#ff0000" stroke-width="1.80"/>
<text x="139.30" y="276.90" font-size="13.00" text-anchor="start">In12%</text>
<line x1="110.40" y1="287.30" x2="133.50" y2="287.30" stroke="#00f000" stroke-width="1.80"/>
<text x="139.30" y="291.20" font-size="13.00" text-anchor="start">In14%</text>
<text x="313.90" y="29.00" font-size="11.60" text-anchor="start" class="s">(a)</text>
<text x="313.90" y="250.30" font-size="11.60" text-anchor="start" class="s">(b)</text>
<line x1="233.80" y1="61.30" x2="257.00" y2="61.30" stroke="#000000" stroke-width="1.80"/>
<text x="262.50" y="65.50" font-size="13.00" text-anchor="start">InN</text>
</svg>
</body></html>
